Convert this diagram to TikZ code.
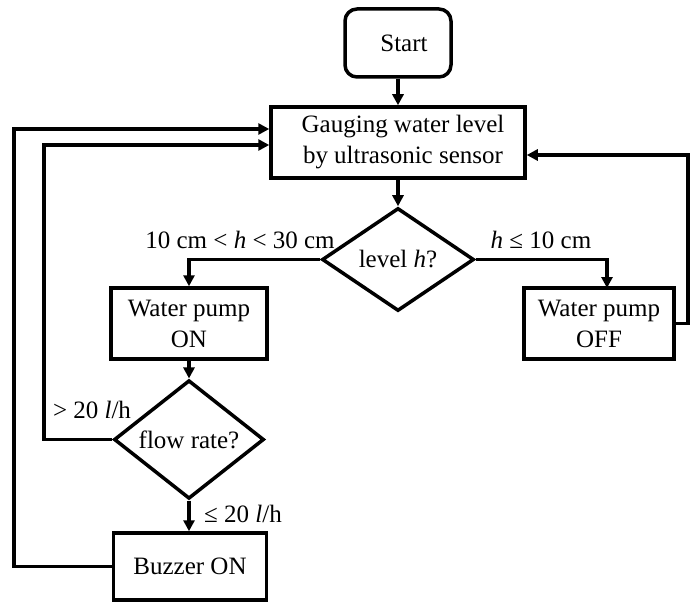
\documentclass[tikz,border=0pt]{standalone}
\usepackage{fontspec}
\setmainfont{Liberation Serif}
\usetikzlibrary{arrows.meta,shapes.geometric}
\begin{document}
\begin{tikzpicture}[x=1pt,y=-1pt,
  every node/.style={font=\fontsize{25}{31}\selectfont},
  box/.style={draw,line width=3.5pt,align=center,inner sep=0pt},
  dia/.style={draw,diamond,line width=3.5pt,inner sep=0pt,align=center},
  lbl/.style={inner sep=0pt,anchor=base},
  arr/.style={line width=3.5pt,-{Triangle[length=11pt,width=11pt]}}]
\useasboundingbox (0,0) rectangle (691,602);
\node[box,rounded corners=12pt,minimum width=106pt,minimum height=68pt] (start) at (398,43) {\hspace*{12pt}\raisebox{-6pt}{Start}};
\node[box,minimum width=254pt,minimum height=71pt] (gauge) at (398,142.5) {\hspace*{10pt}Gauging water level\\\hspace*{10pt}by ultrasonic sensor};
\node[dia,minimum width=152pt,minimum height=103pt] (level) at (398,259.5) {level \textit{h}?};
\node[box,minimum width=156pt,minimum height=71pt] (on) at (189,323.5) {Water pump\\ON};
\node[box,minimum width=150pt,minimum height=71pt] (off) at (599,323.5) {Water pump\\OFF};
\node[dia,minimum width=150pt,minimum height=103pt] (flow) at (189,439.5) {flow rate?};
\node[box,minimum width=153pt,minimum height=67pt] (buzzer) at (190,566.5) {Buzzer ON};
\node[lbl] (la) at (240,248) {10 cm < \textit{h} < 30 cm};
\node[lbl] (lb) at (541,248) {\textit{h} ≤ 10 cm};
\node[lbl] (lc) at (92,418) {> 20 \textit{l}/h};
\node[lbl] (ld) at (243,522) {≤ 20 \textit{l}/h};
\coordinate (r1) at (688,155);
\coordinate (l1) at (14,129);
\coordinate (l2) at (44,145);
\coordinate (offin) at (607,288);
\draw[arr] (start) -- (gauge);
\draw[arr] (gauge) -- (level);
\draw[arr] (level.west) -| (on.north);
\draw[arr] (level.east) -| (offin);
\draw[arr] (on) -- (flow);
\draw[arr] (flow.south) -- (flow.south |- buzzer.north);
\draw[arr] (off.east) -| (r1) -- (gauge.east |- r1);
\draw[arr] (flow.west) -| (l2) -- (gauge.west |- l2);
\draw[arr] (buzzer.west) -| (l1) -- (gauge.west |- l1);
\end{tikzpicture}
\end{document}
